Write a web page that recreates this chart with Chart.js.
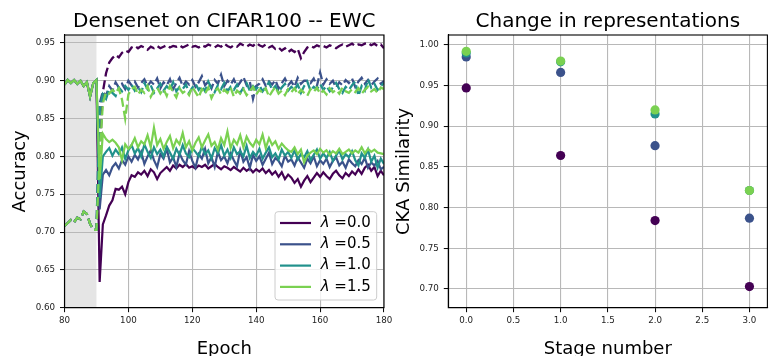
<!DOCTYPE html>
<html>
<head>
<meta charset="utf-8">
<script src="https://cdn.jsdelivr.net/npm/chart.js@4"></script>
<style>
  html, body { margin: 0; padding: 0; background: #fff; }
  #wrap { position: relative; width: 772px; height: 356px; overflow: hidden; }
  canvas { position: absolute; top: 0; }
  #accChart { left: 0; }
  #ckaChart { left: 390px; }
</style>
</head>
<body>
<div id="wrap">
  <canvas id="accChart" width="400" height="356"></canvas>
  <canvas id="ckaChart" width="382" height="356"></canvas>
</div>
<script>
// ---- data: left chart (accuracy per epoch) ----
const epochs = [
  80, 81, 82, 83, 84, 85, 86, 87, 88, 89,
  90, 91, 92, 93, 94, 95, 96, 97, 98, 99,
  100, 101, 102, 103, 104, 105, 106, 107, 108, 109,
  110, 111, 112, 113, 114, 115, 116, 117, 118, 119,
  120, 121, 122, 123, 124, 125, 126, 127, 128, 129,
  130, 131, 132, 133, 134, 135, 136, 137, 138, 139,
  140, 141, 142, 143, 144, 145, 146, 147, 148, 149,
  150, 151, 152, 153, 154, 155, 156, 157, 158, 159,
  160, 161, 162, 163, 164, 165, 166, 167, 168, 169,
  170, 171, 172, 173, 174, 175, 176, 177, 178, 179,
  180
]
const lambdas = ["0.0", "0.5", "1.0", "1.5"]
const colors = ["#440154", "#3b528b", "#21918c", "#7ad151"]

// epochs 80..90, shared by every lambda (first task)
const preSolid = [0.895, 0.901, 0.897, 0.901, 0.896, 0.900, 0.893, 0.898, 0.879, 0.897, 0.901]
const preDashed = [0.708, 0.712, 0.716, 0.713, 0.719, 0.717, 0.727, 0.724, 0.711, 0.703, 0.703]

// epochs 91..180
const solidL00 = [
  0.634, 0.710, 0.722, 0.735, 0.742, 0.757, 0.756, 0.760, 0.750, 0.766,
  0.775, 0.773, 0.779, 0.776, 0.781, 0.774, 0.783, 0.779, 0.770, 0.778,
  0.782, 0.786, 0.781, 0.788, 0.784, 0.789, 0.786, 0.790, 0.785, 0.787,
  0.784, 0.788, 0.786, 0.789, 0.784, 0.787, 0.790, 0.786, 0.783, 0.787,
  0.785, 0.782, 0.786, 0.783, 0.780, 0.785, 0.781, 0.784, 0.779, 0.783,
  0.780, 0.784, 0.778, 0.782, 0.776, 0.780, 0.773, 0.779, 0.770, 0.776,
  0.772, 0.765, 0.770, 0.760, 0.768, 0.774, 0.766, 0.772, 0.778, 0.773,
  0.779, 0.774, 0.770, 0.777, 0.781, 0.775, 0.771, 0.778, 0.774, 0.780,
  0.776, 0.783, 0.777, 0.785, 0.789, 0.781, 0.786, 0.774, 0.781, 0.775
]
const solidL05 = [
  0.730, 0.776, 0.782, 0.775, 0.786, 0.791, 0.784, 0.795, 0.789, 0.800,
  0.793, 0.802, 0.796, 0.806, 0.790, 0.800, 0.808, 0.795, 0.786, 0.803,
  0.797, 0.810, 0.792, 0.799, 0.786, 0.804, 0.795, 0.789, 0.807, 0.794,
  0.785, 0.803, 0.797, 0.810, 0.791, 0.799, 0.786, 0.806, 0.795, 0.800,
  0.791, 0.804, 0.795, 0.787, 0.808, 0.793, 0.799, 0.785, 0.802, 0.794,
  0.800, 0.789, 0.797, 0.805, 0.790, 0.798, 0.794, 0.787, 0.801, 0.793,
  0.796, 0.788, 0.799, 0.792, 0.785, 0.797, 0.791, 0.800, 0.787, 0.795,
  0.790, 0.797, 0.786, 0.794, 0.799, 0.788, 0.793, 0.785, 0.796, 0.791,
  0.787, 0.795, 0.790, 0.798, 0.785, 0.792, 0.788, 0.794, 0.783, 0.786
]
const solidL10 = [
  0.745, 0.800, 0.806, 0.811, 0.801, 0.809, 0.803, 0.812, 0.797, 0.808,
  0.815, 0.804, 0.811, 0.800, 0.816, 0.806, 0.798, 0.812, 0.803, 0.809,
  0.800, 0.813, 0.805, 0.797, 0.810, 0.802, 0.815, 0.804, 0.799, 0.811,
  0.806, 0.800, 0.813, 0.803, 0.808, 0.797, 0.811, 0.804, 0.815, 0.801,
  0.809, 0.798, 0.812, 0.803, 0.807, 0.800, 0.814, 0.798, 0.806, 0.801,
  0.810, 0.797, 0.805, 0.812, 0.799, 0.804, 0.796, 0.809, 0.801, 0.806,
  0.798, 0.808, 0.796, 0.803, 0.799, 0.807, 0.795, 0.802, 0.809, 0.797,
  0.804, 0.798, 0.806, 0.794, 0.801, 0.808, 0.796, 0.803, 0.799, 0.807,
  0.795, 0.788, 0.804, 0.798, 0.809, 0.793, 0.801, 0.785, 0.797, 0.790
]
const solidL15 = [
  0.770, 0.830, 0.823, 0.819, 0.822, 0.818, 0.812, 0.795, 0.816, 0.810,
  0.815, 0.824, 0.812, 0.820, 0.816, 0.828, 0.812, 0.838, 0.815, 0.823,
  0.810, 0.819, 0.827, 0.811, 0.822, 0.816, 0.831, 0.812, 0.820, 0.808,
  0.818, 0.825, 0.812, 0.821, 0.829, 0.814, 0.819, 0.809, 0.824, 0.815,
  0.833, 0.811, 0.822, 0.816, 0.828, 0.812, 0.826, 0.818, 0.813, 0.822,
  0.816, 0.829, 0.811, 0.824, 0.815, 0.820, 0.810, 0.817, 0.812, 0.808,
  0.806, 0.812, 0.803, 0.809, 0.792, 0.801, 0.805, 0.808, 0.803, 0.810,
  0.805, 0.808, 0.802, 0.807, 0.804, 0.810, 0.803, 0.806, 0.809, 0.804,
  0.808, 0.805, 0.812, 0.804, 0.810, 0.806, 0.809, 0.805, 0.804, 0.803
]
const dashL00 = [
  0.800, 0.885, 0.910, 0.924, 0.930, 0.934, 0.931, 0.937, 0.940, 0.938,
  0.944, 0.946, 0.943, 0.946, 0.944, 0.941, 0.945, 0.943, 0.946, 0.943,
  0.945, 0.947, 0.944, 0.946, 0.945, 0.947, 0.944, 0.946, 0.948, 0.945,
  0.946, 0.944, 0.947, 0.945, 0.948, 0.946, 0.944, 0.947, 0.945, 0.949,
  0.946, 0.944, 0.947, 0.945, 0.949, 0.947, 0.945, 0.948, 0.946, 0.950,
  0.947, 0.945, 0.948, 0.944, 0.946, 0.942, 0.944, 0.940, 0.943, 0.938,
  0.941, 0.938, 0.942, 0.930, 0.938, 0.944, 0.946, 0.944, 0.947, 0.945,
  0.946, 0.944, 0.947, 0.945, 0.943, 0.946, 0.948, 0.945, 0.947, 0.949,
  0.946, 0.948, 0.947, 0.949, 0.950, 0.947, 0.949, 0.946, 0.948, 0.943
]
const dashL05 = [
  0.870, 0.886, 0.880, 0.893, 0.887, 0.898, 0.891, 0.896, 0.889, 0.900,
  0.894, 0.899, 0.891, 0.897, 0.902, 0.893, 0.899, 0.895, 0.903, 0.890,
  0.898, 0.894, 0.902, 0.889, 0.897, 0.904, 0.893, 0.899, 0.895, 0.901,
  0.892, 0.898, 0.906, 0.894, 0.899, 0.890, 0.901, 0.896, 0.908, 0.893,
  0.900, 0.895, 0.902, 0.892, 0.898, 0.905, 0.894, 0.899, 0.876, 0.893,
  0.896, 0.902, 0.893, 0.899, 0.895, 0.901, 0.890, 0.897, 0.903, 0.894,
  0.899, 0.892, 0.904, 0.896, 0.900, 0.900, 0.897, 0.903, 0.893, 0.911,
  0.895, 0.902, 0.896, 0.900, 0.891, 0.898, 0.894, 0.901, 0.897, 0.903,
  0.892, 0.899, 0.904, 0.896, 0.901, 0.894, 0.899, 0.903, 0.896, 0.900
]
const dashL10 = [
  0.860, 0.882, 0.876, 0.889, 0.884, 0.880, 0.891, 0.886, 0.893, 0.888,
  0.895, 0.887, 0.892, 0.885, 0.897, 0.889, 0.894, 0.884, 0.890, 0.896,
  0.887, 0.893, 0.888, 0.898, 0.886, 0.892, 0.889, 0.895, 0.884, 0.891,
  0.896, 0.888, 0.893, 0.886, 0.899, 0.890, 0.885, 0.894, 0.889, 0.897,
  0.886, 0.892, 0.888, 0.895, 0.884, 0.891, 0.897, 0.887, 0.893, 0.889,
  0.894, 0.886, 0.892, 0.898, 0.888, 0.893, 0.885, 0.891, 0.896, 0.887,
  0.892, 0.888, 0.895, 0.884, 0.893, 0.899, 0.887, 0.892, 0.889, 0.896,
  0.888, 0.893, 0.886, 0.891, 0.897, 0.889, 0.884, 0.892, 0.888, 0.894,
  0.899, 0.880, 0.893, 0.887, 0.902, 0.891, 0.896, 0.888, 0.893, 0.897
]
const dashL15 = [
  0.800, 0.870, 0.885, 0.883, 0.888, 0.884, 0.890, 0.875, 0.850, 0.882,
  0.889, 0.892, 0.882, 0.888, 0.884, 0.893, 0.879, 0.887, 0.891, 0.883,
  0.889, 0.880, 0.893, 0.885, 0.878, 0.890, 0.884, 0.887, 0.881, 0.892,
  0.885, 0.878, 0.889, 0.883, 0.891, 0.877, 0.886, 0.890, 0.882, 0.888,
  0.884, 0.891, 0.879, 0.887, 0.883, 0.889, 0.881, 0.886, 0.892, 0.882,
  0.888, 0.884, 0.890, 0.879, 0.886, 0.892, 0.883, 0.887, 0.881, 0.889,
  0.885, 0.890, 0.882, 0.888, 0.884, 0.880, 0.889, 0.885, 0.891, 0.883,
  0.887, 0.882, 0.890, 0.885, 0.888, 0.883, 0.891, 0.886, 0.884, 0.889,
  0.885, 0.890, 0.883, 0.888, 0.892, 0.886, 0.889, 0.884, 0.891, 0.889
]
const accTicksX = [80, 100, 120, 140, 160, 180]
const accTicksY = [0.60, 0.65, 0.70, 0.75, 0.80, 0.85, 0.90, 0.95]

// ---- data: right chart (CKA similarity per stage) ----
const stages = [0, 1, 2, 3]
const ckaL00 = [0.947, 0.864, 0.784, 0.703]
const ckaL05 = [0.985, 0.966, 0.876, 0.787]
const ckaL10 = [0.990, 0.979, 0.915, 0.821]
const ckaL15 = [0.992, 0.980, 0.920, 0.821]
const ckaTicksX = [0.0, 0.5, 1.0, 1.5, 2.0, 2.5, 3.0]
const ckaTicksY = [0.70, 0.75, 0.80, 0.85, 0.90, 0.95, 1.00]

Chart.defaults.font.family = "'DejaVu Sans'"
Chart.defaults.color = "#222"

const FONT = "'DejaVu Sans'"

function axisStyle(tickValues, decimals, fitSize, isX) {
    return {
        ticks: {
            autoSkip: false,
            maxRotation: 0,
            padding: isX ? 3.5 : 5,
            font: { size: 8.7 },
            color: "#222",
            callback: (v) => Number(v).toFixed(decimals)
        },
        grid: { color: "#b8b8b8", lineWidth: 1.1, tickLength: 4.5, tickColor: "#000", tickWidth: 1 },
        border: { color: "#000", width: 1.1 },
        afterBuildTicks: (scale) => { scale.ticks = tickValues.map((v) => ({ value: v })) },
        afterFit: (scale) => {
            if (isX) scale.height = fitSize
            else scale.width = fitSize
        }
    }
}

function textPlugin(title, xLabel, yLabel, yLabelX) {
    return {
        id: "texts",
        afterDraw(chart) {
            const ctx = chart.ctx
            const a = chart.chartArea
            ctx.save()
            // frame on all four sides
            ctx.strokeStyle = "#000"
            ctx.lineWidth = 1.1
            ctx.strokeRect(a.left, a.top, a.right - a.left, a.bottom - a.top)
            ctx.fillStyle = "#000"
            ctx.textAlign = "center"
            ctx.textBaseline = "alphabetic"
            ctx.font = `20px ${FONT}`
            ctx.fillText(title, (a.left + a.right) / 2, 27)
            ctx.font = `18px ${FONT}`
            ctx.fillText(xLabel, (a.left + a.right) / 2, 354)
            ctx.translate(yLabelX, (a.top + a.bottom) / 2)
            ctx.rotate(-Math.PI / 2)
            ctx.fillText(yLabel, 0, 0)
            ctx.restore()
        }
    }
}

const spanPlugin = {
    id: "span",
    beforeDraw(chart) {
        const ctx = chart.ctx
        const a = chart.chartArea
        const x = chart.scales.x
        const x0 = x.getPixelForValue(80)
        const x1 = x.getPixelForValue(90)
        ctx.save()
        ctx.fillStyle = "#e5e5e5"
        ctx.fillRect(x0, a.top, x1 - x0, a.bottom - a.top)
        ctx.restore()
    }
}

const legendPlugin = {
    id: "boxLegend",
    afterDraw(chart) {
        const ctx = chart.ctx
        const a = chart.chartArea
        const w = 101.7, h = 88.3
        const lx = a.right - 7.3 - w
        const ly = a.bottom - 7.7 - h
        ctx.save()
        ctx.beginPath()
        ctx.roundRect(lx, ly, w, h, 3)
        ctx.fillStyle = "rgba(255,255,255,0.8)"
        ctx.fill()
        ctx.strokeStyle = "#cccccc"
        ctx.lineWidth = 1
        ctx.stroke()
        ctx.textBaseline = "middle"
        lambdas.forEach((lam, i) => {
            const y = ly + 11.3 + i * 21.3
            ctx.strokeStyle = colors[i]
            ctx.lineWidth = 2.2
            ctx.beginPath()
            ctx.moveTo(lx + 5, y)
            ctx.lineTo(lx + 36, y)
            ctx.stroke()
            ctx.fillStyle = "#000"
            ctx.textAlign = "left"
            ctx.font = `italic 15px ${FONT}`
            ctx.fillText("λ", lx + 45.7, y)
            const lw = ctx.measureText("λ").width
            ctx.font = `15px ${FONT}`
            ctx.fillText(" =" + lam, lx + 45.7 + lw, y)
        })
        ctx.restore()
    }
}

const solids = [solidL00, solidL05, solidL10, solidL15]
const dashes = [dashL00, dashL05, dashL10, dashL15]
let accDatasets = []
lambdas.forEach((lam, i) => {
    accDatasets.push({
        label: "λ =" + lam,
        data: preSolid.concat(solids[i]),
        borderColor: colors[i],
        borderWidth: 2.2,
        pointRadius: 0,
        tension: 0,
        order: 20 - 2 * i
    })
    accDatasets.push({
        label: "λ =" + lam + " old",
        data: preDashed.concat(dashes[i]),
        borderColor: colors[i],
        borderWidth: 2.3,
        borderDash: [9, 4],
        pointRadius: 0,
        tension: 0,
        order: 19 - 2 * i
    })
})

const accX = axisStyle(accTicksX, 0, 48.3, true)
accX.type = "linear"
accX.min = 80
accX.max = 180
const accY = axisStyle(accTicksY, 2, 64.5, false)
accY.min = 0.6
accY.max = 0.9605

new Chart(document.getElementById("accChart"), {
    type: "line",
    data: { labels: epochs, datasets: accDatasets },
    options: {
        responsive: false,
        animation: false,
        events: [],
        layout: { padding: { top: 35, right: 16, left: 0, bottom: 0 } },
        plugins: { legend: { display: false }, tooltip: { enabled: false } },
        scales: { x: accX, y: accY }
    },
    plugins: [spanPlugin, legendPlugin, textPlugin("Densenet on CIFAR100 -- EWC", "Epoch", "Accuracy", 25.1)]
})

const ckaSeries = [ckaL00, ckaL05, ckaL10, ckaL15]
const ckaDatasets = lambdas.map((lam, i) => ({
    label: "λ =" + lam,
    data: stages.map((s, j) => ({ x: s, y: ckaSeries[i][j] })),
    backgroundColor: colors[i],
    borderWidth: 0,
    pointRadius: 4.6,
    order: 10 - i
}))

const ckaX = axisStyle(ckaTicksX, 1, 48.3, true)
ckaX.type = "linear"
ckaX.min = -0.19
ckaX.max = 3.19
const ckaY = axisStyle(ckaTicksY, 2, 58.3, false)
ckaY.min = 0.677
ckaY.max = 1.012

new Chart(document.getElementById("ckaChart"), {
    type: "scatter",
    data: { datasets: ckaDatasets },
    options: {
        responsive: false,
        animation: false,
        events: [],
        layout: { padding: { top: 35, right: 3.7, left: 0, bottom: 0 } },
        plugins: { legend: { display: false }, tooltip: { enabled: false } },
        scales: { x: ckaX, y: ckaY }
    },
    plugins: [textPlugin("Change in representations", "Stage number", "CKA Similarity", 19)]
})
</script>
</body>
</html>
